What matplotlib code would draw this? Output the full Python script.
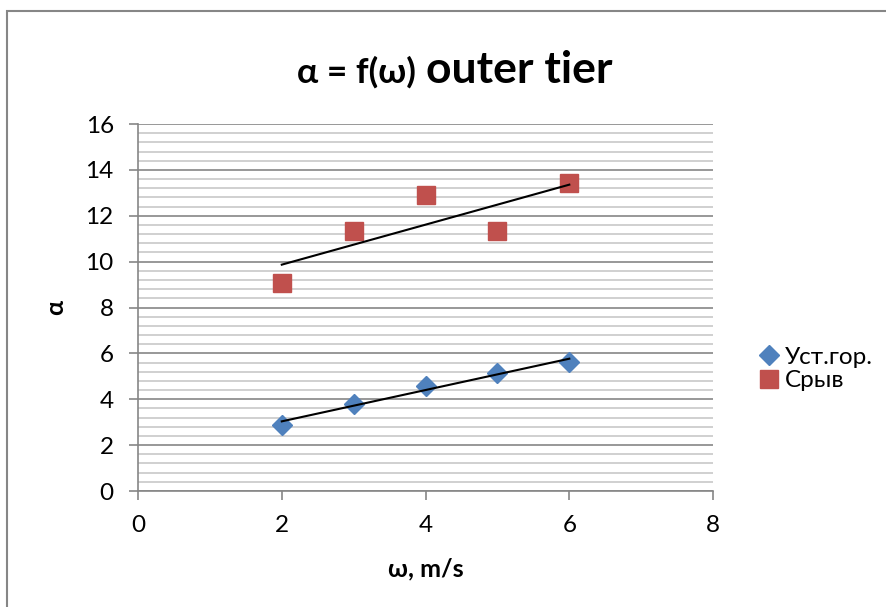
import matplotlib.pyplot as plt
import numpy as np
from matplotlib.patches import Rectangle
from matplotlib.ticker import MultipleLocator

plt.rcParams['font.family'] = ['Lato', 'Open Sans', 'DejaVu Sans']

w = [2, 3, 4, 5, 6]
ust_gor = [2.88, 3.79, 4.58, 5.14, 5.62]
sryv = [9.07, 11.33, 12.9, 11.33, 13.43]

fig = plt.figure(figsize=(8.87, 6.07), dpi=100)
ax = fig.add_axes([0.1556, 0.1911, 0.6483, 0.6046])

# chart area border (cropped at right/bottom like the original)
fig.patches.append(Rectangle((7 / 887, -0.05), 1.2, 1.05 - 11 / 607, transform=fig.transFigure,
                             fill=False, edgecolor='#868686', linewidth=1.5))

ax.set_xlim(0, 8)
ax.set_ylim(0, 16)
ax.xaxis.set_major_locator(MultipleLocator(2))
ax.yaxis.set_major_locator(MultipleLocator(2))
ax.yaxis.set_minor_locator(MultipleLocator(0.4))

ax.grid(axis='y', which='major', color='#868686', linewidth=1.2)
ax.grid(axis='y', which='minor', color='#c8c8c8', linewidth=1.2)
ax.set_axisbelow(True)

for s in ['top', 'right']:
    ax.spines[s].set_visible(False)
for s in ['left', 'bottom']:
    ax.spines[s].set_color('#868686')
    ax.spines[s].set_linewidth(1.2)

ax.tick_params(which='major', length=6.5, width=1.2, color='#868686', labelsize=17.5)
ax.tick_params(axis='y', pad=11)
ax.tick_params(axis='x', pad=11)
ax.tick_params(which='minor', length=0)

ax.plot(w, ust_gor, 'D', color='#4F81BD', markersize=10, label='Уст.гор.', zorder=3)
ax.plot(w, sryv, 's', color='#C0504D', markersize=12.5, label='Срыв', zorder=3)

# linear trendlines
xs = np.array([w[0], w[-1]])
for ys in (ust_gor, sryv):
    k, b = np.polyfit(w, ys, 1)
    ax.plot(xs, k * xs + b, color='black', linewidth=1.5, zorder=4)

ax.set_xlabel('ω, m/s', fontsize=18, fontweight='bold', labelpad=15)
ax.set_ylabel('α', fontsize=18, fontweight='bold', labelpad=13)

fig.text(297 / 887, 1 - 83 / 607, 'α = f(ω)', fontsize=25.5, fontweight='bold', ha='left', va='baseline')
fig.text(426 / 887, 1 - 83 / 607, 'outer tier', fontsize=32, fontweight='bold', ha='left', va='baseline')

ax.legend(loc='center left', bbox_to_anchor=(742 / 887, 1 - 369 / 607), bbox_transform=fig.transFigure,
          frameon=False, fontsize=17.5, handletextpad=0.05, handlelength=1.2, labelspacing=0.1, borderpad=0)

fig.savefig('out.png', dpi=100)
